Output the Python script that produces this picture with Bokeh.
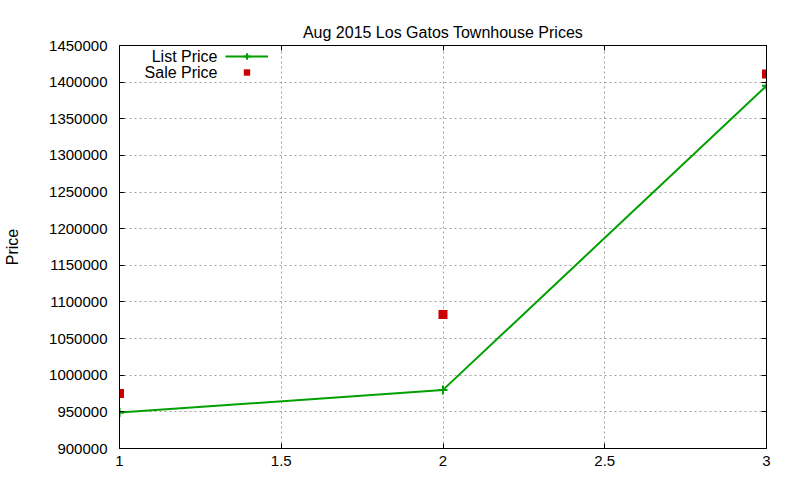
from bokeh.embed import file_html
from bokeh.models import (BasicTickFormatter, ColumnDataSource, FixedTicker, Label,
                          Legend, LegendItem, LinearAxis, Range1d)
from bokeh.plotting import figure
from bokeh.resources import INLINE

# values
units = [1, 2, 3]
list_price = [949000, 980000, 1395000]
sale_price = [975000, 1083000, 1411000]

x_ticks = [1, 1.5, 2, 2.5, 3]
x_tick_labels = ["1", "1.5", "2", "2.5", "3"]
y_ticks = list(range(900000, 1450001, 50000))

title = "Aug 2015 Los Gatos Townhouse Prices"
font = "Liberation Sans"
green = "#00a000"
red = "#cc0000"

source = ColumnDataSource(data=dict(unit=units, list_price=list_price, sale_price=sale_price))

p = figure(width=800, height=480, title=title, output_backend="svg", toolbar_location=None,
           x_range=Range1d(1, 3), y_range=Range1d(900000, 1450000),
           min_border_left=119, min_border_right=34, min_border_top=45, min_border_bottom=32)

p.title.align = "center"
p.title.text_font = font
p.title.text_font_style = "normal"
p.title.text_font_size = "16px"
p.title.text_color = "black"

p.outline_line_color = "black"
p.outline_line_width = 1
p.background_fill_color = "white"
p.border_fill_color = "white"

# axes: gnuplot style, ticks pointing inwards, mirrored on all four sides
for ax in (p.xaxis[0], p.yaxis[0]):
    ax.major_tick_in = 5
    ax.major_tick_out = 0
    ax.minor_tick_line_color = None
    ax.major_label_text_font = font
    ax.major_label_text_font_size = "15px"
    ax.major_label_text_color = "black"
    ax.axis_line_color = "black"

p.xaxis.ticker = FixedTicker(ticks=x_ticks)
p.xaxis.major_label_overrides = dict(zip(x_ticks, x_tick_labels))
p.xaxis.major_label_standoff = 7

p.yaxis.ticker = FixedTicker(ticks=y_ticks)
p.yaxis.formatter = BasicTickFormatter(use_scientific=False)
p.yaxis.major_label_standoff = 12
p.yaxis.axis_label = "Price"
p.yaxis.axis_label_text_font = font
p.yaxis.axis_label_text_font_style = "normal"
p.yaxis.axis_label_text_font_size = "16px"
p.yaxis.axis_label_text_color = "black"
p.yaxis.axis_label_standoff = 25

top_axis = LinearAxis(ticker=FixedTicker(ticks=x_ticks), major_tick_in=5, major_tick_out=0,
                      minor_tick_line_color=None,
                      major_label_overrides={t: "" for t in x_ticks})
right_axis = LinearAxis(ticker=FixedTicker(ticks=y_ticks), major_tick_in=5, major_tick_out=0,
                        minor_tick_line_color=None,
                        major_label_overrides={t: "" for t in y_ticks})
p.add_layout(top_axis, "above")
p.add_layout(right_axis, "right")

p.grid.grid_line_color = "#a0a0a0"
p.grid.grid_line_dash = "2 3"
p.grid.grid_line_width = 1
p.xgrid.ticker = FixedTicker(ticks=x_ticks)
p.ygrid.ticker = FixedTicker(ticks=y_ticks)

list_line = p.line(x="unit", y="list_price", source=source, line_color=green, line_width=2)
list_pts = p.scatter(x="unit", y="list_price", source=source, marker="cross", size=9,
                     line_color=green, line_width=2)
sale_pts = p.scatter(x="unit", y="sale_price", source=source, marker="square", size=9,
                     fill_color=red, line_color=None)

# gnuplot key: text right-aligned, sample on its right
legend = Legend(items=[LegendItem(label="", renderers=[list_line, list_pts]),
                       LegendItem(label="", renderers=[sale_pts])],
                location=(106, 368), glyph_width=43, glyph_height=16, label_height=16,
                label_width=0, label_standoff=0, spacing=0, padding=0, margin=0,
                label_text_font_size="10px", border_line_color=None, background_fill_alpha=0)
p.add_layout(legend)

for text, y in (("List Price", 392), ("Sale Price", 376)):
    p.add_layout(Label(x=98, y=y, x_units="screen", y_units="screen", text=text,
                       text_align="right", text_baseline="middle", text_font=font,
                       text_font_size="16px", text_color="black"))

open("out.html", "w").write(file_html(p, INLINE))
